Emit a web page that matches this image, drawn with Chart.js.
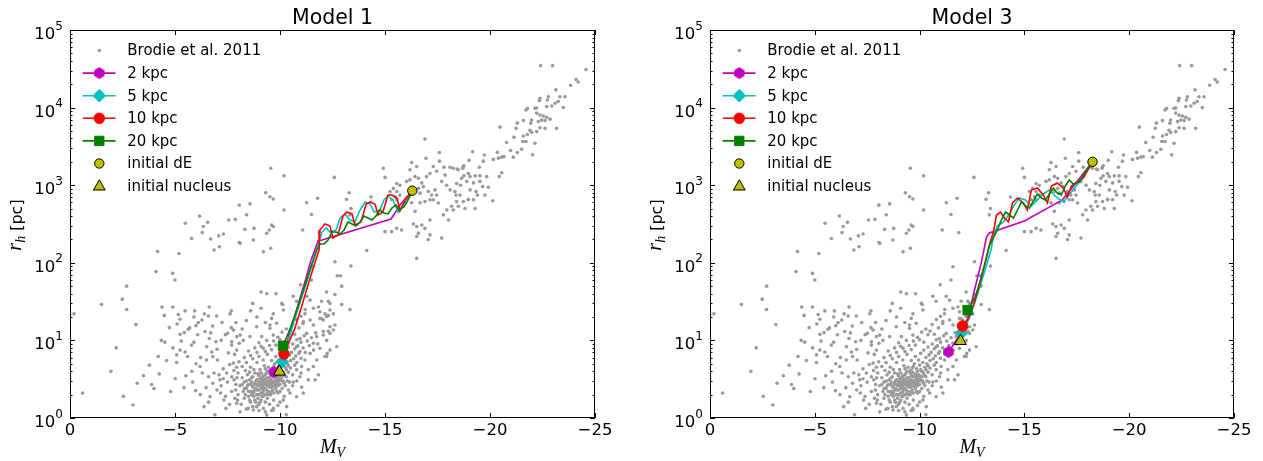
<!DOCTYPE html>
<html>
<head>
<meta charset="utf-8">
<script src="https://cdn.jsdelivr.net/npm/chart.js"></script>
<style>
  html, body { margin: 0; padding: 0; background: #fff; }
  #wrap { position: relative; width: 1263px; height: 461px; }
  .panel { position: absolute; top: 0; height: 461px; }
</style>
</head>
<body>
<div id="wrap">
  <div class="panel" style="left:0;width:640px"><canvas id="c1" width="640" height="461"></canvas></div>
  <div class="panel" style="left:640px;width:623px"><canvas id="c3" width="623" height="461"></canvas></div>
</div>
<script>
// Brodie et al. 2011 compilation, [M_V, r_h in pc]
const brodie = [
  [-0.19,22],[-0.6,2.1],[-1.5,29],[-1.95,4.0],[-2.54,1.9],[-3.0,1.47],[-2.7,50],[-2.49,34],[-2.7,25],[-3.14,16],
  [-3.78,4.8],[-3.89,2.7],[-4.0,2.4],[-4.1,77],[-4.17,140],[-4.25,3.7],[-4.35,10],[-4.52,9.5],[-4.38,27],[-4.49,21],
  [-4.73,14.6],[-4.79,2.2],[-4.89,27],[-4.89,73],[-5.0,60],[-5.01,3.2],[-5.08,6.5],[-5.08,5.2],[-5.16,21.6],[-5.19,132],
  [-5.24,18.7],[-5.24,12],[-5.24,7.5],[-5.48,24],[-5.48,7.1],[-5.49,323],[-5.44,12.6],[-5.52,3.5],[-5.43,2.46],[-5.63,13.9],
  [-5.79,206],[-5.79,8.7],[-5.84,2.9],[-5.9,20],[-5.94,24],[-5.98,2.25],[-6.08,11.8],[-6.11,17],[-6.17,400],[-6.19,4.6],
  [-6.22,6.0],[-6.3,245],[-6.29,18.3],[-6.35,294],[-6.38,1.4],[-6.43,13],[-6.48,2.46],[-6.51,8.3],[-6.56,332],[-6.59,20.6],
  [-6.63,27],[-6.63,10.6],[-6.67,1.88],[-6.7,203],[-6.75,7.1],[-6.79,15.3],[-6.86,146],[-6.86,3.8],[-6.9,1.1],[-6.95,9.6],
  [-6.98,20.6],[-7.02,5.6],[-7.08,222],[-7.11,161],[-7.14,3.1],[-7.17,2.1],[-7.24,17],[-7.3,235],[-7.3,3.2],[-7.33,1.7],
  [-7.4,11.8],[-7.43,1.33],[-7.46,3.8],[-7.54,6.9],[-7.56,356],[-7.62,22],[-7.68,24],[-7.68,14.6],[-7.7,9.6],[-7.78,5.1],
  [-7.81,3.1],[-7.84,6.6],[-7.87,363],[-7.89,2.3],[-7.94,11.2],[-7.94,4.5],[-7.98,1.7],[-8.06,553],[-8.06,182],[-8.06,9.2],
  [-9.56,1650],[-10.19,1320],[-9.32,800],[-9.52,710],[-9.68,665],[-10.19,480],[-8.57,574],[-8.41,415],[-8.33,270],[-8.76,278],
  [-9.49,265],[-9.6,307],[-9.68,293],[-9.37,240],[-8.1,178],[-8.73,197],[-9.56,154],[-9.21,139],[-11.08,265],[-11.27,595],
  [-11.5,420],[-11.79,680],[-9.1,42],[-9.37,40],[-9.81,40],[-10.13,29],[-9.68,22],[-9.52,15.8],
  [-10.08,30],[-10.16,24.6],[-10.63,37],[-10.98,52],[-11.5,60],[-11.59,89],[-12.62,103],[-12.73,68],[-12.94,50],[-12.22,42],
  [-12.38,30],[-11.98,32],[-11.83,27],[-11.43,33],[-11.27,37],[-10.79,32],[-11.59,26],[-11.9,23.4],[-12.14,22],[-12.38,24.6],
  [-12.54,22],[-11.9,19.2],[-12.06,18.3],[-12.22,20.3],[-12.38,15],[-12.54,13.6],[-12.62,15.8],[-11.19,22],[-11.11,17.5],[-11.43,18.3],
  [-11.59,15.8],[-9.6,19.2],[-9.84,16.6],[-9.52,14.3],[-9.68,11.7],[-9.37,10],[-9.13,11.2],[-9.21,7.9],[-8.89,15],[-8.57,11.2],
  [-8.25,10],[-8.1,11.7],[-7.78,13.6],[-7.7,8.7],[-7.94,7.5],[-10.95,10.6],[-11.27,12.3],[-10.79,8.3],[-11.59,9.2],[-11.75,11.2],
  [-12.06,11.7],[-11.9,7.9],[-12.22,10],[-12.3,13.2],[-11.43,6.8],[-11.75,5.6],[-11.19,5.6],[-11.03,4.6],[-11.35,4.2],[-11.59,4.6],
  [-10.79,4.2],[-12.22,6.2],[-12.38,7.5],[-12.7,8.3],[-11.83,3.6],[-11.67,3.1],[-10.95,3.4],[-10.63,2.9],[-11.03,2.5],[-11.35,3.1],
  [-10.48,2.1],[-10.79,1.88],[-10.16,1.7],[-11.11,2.1],[-10.32,1.4],[-9.68,1.33],[-9.21,1.33],[-8.89,1.4],[-8.49,1.33],[-7.94,1.55],
  [-12.62,39],[-12.3,32],[-12.3,21],[-12.94,29],[-13.33,25],[-11.98,19],[-12.06,13.1],[-12.38,12.3],[-12.14,6.2],[-12.25,6.8],
  [-14.13,144],[-13.38,91],[-12.89,68],
  [-16.9,3940],[-17.59,2640],[-17.59,2040],[-16.95,2220],[-16.51,1740],[-16.27,1960],[-16.19,1580],[-14.92,1650],[-15.0,1260],[-15.56,1050],
  [-15.71,1000],[-15.4,910],[-15.24,830],[-15.56,830],[-15.71,745],[-15.48,710],[-15.32,650],[-15.56,650],[-16.03,1120],[-16.19,1170],
  [-16.43,1290],[-16.59,1230],[-16.75,1070],[-16.83,960],[-16.59,910],[-16.43,830],[-16.67,790],[-16.98,1290],[-17.14,1410],[-17.3,1740],
  [-17.46,1510],[-17.7,1120],[-17.86,1350],[-17.06,830],[-17.22,745],[-17.3,650],[-17.46,745],[-17.38,870],[-16.27,595],[-16.43,460],
  [-16.67,595],[-16.9,615],[-17.14,650],[-17.54,590],[-16.35,316],[-16.51,294],[-16.75,307],[-16.9,278],[-16.59,240],[-16.51,218],
  [-17.14,356],[-17.14,229],[-17.7,208],[-17.06,200],[-15.56,278],[-15.79,265],[-15.32,252],[-16.51,114],[-15.0,252],[-12.59,1260],
  [-13.29,800],[-13.17,660],[-13.38,500],[-13.33,415],[-14.33,705],[-11.87,245],[-17.94,1000],[-18.1,870],[-18.33,830],[-18.41,615],
  [-18.17,535],[-17.94,480],[-17.78,415],[-18.02,356],[-18.25,480],[-18.49,535],[-18.81,500],[-18.73,615],[-18.57,745],[-18.41,1050],
  [-18.65,1230],[-18.73,1740],[-18.97,1410],[-18.49,1580],[-18.25,1650],[-18.97,650],[-19.05,870],
  [-22.41,34700],[-22.98,34700],[-24.57,31000],[-24.1,23000],[-24.2,21400],[-23.84,19400],[-23.14,16900],[-23.33,13800],[-23.57,13800],[-23.25,12000],
  [-23.1,11400],[-22.94,10500],[-22.7,10300],[-23.49,10000],[-22.78,13800],[-22.73,12500],[-22.38,13200],[-22.35,12300],[-21.78,9700],[-21.71,9300],
  [-22.14,9800],[-22.22,9900],[-22.22,8500],[-22.38,8000],[-22.54,7800],[-22.7,7500],[-22.46,6900],[-22.3,6600],[-22.62,6800],[-22.86,7100],
  [-21.98,6900],[-21.94,6300],[-21.59,6800],[-21.3,6300],[-21.24,5400],[-22.38,5500],[-22.62,5400],[-23.17,5400],[-20.48,5600],[-21.9,5100],
  [-21.98,4800],[-21.78,4500],[-21.59,4300],[-22.22,4900],[-22.14,3470],[-21.14,4150],[-21.56,3650],[-21.71,3650],[-20.79,3550],[-21.51,2900],
  [-21.3,2630],[-21.11,2300],[-20.98,2800],[-20.67,2340],[-20.56,2300],[-20.4,2230],[-20.35,2650],[-20.16,2150],[-22.03,2460],[-19.73,2450],
  [-19.68,2040],[-19.49,1700],[-19.17,2700],[-19.0,2090],[-18.76,1780],[-18.7,1650],[-18.44,1620],[-18.1,1700],[-17.81,1700],[-19.84,1290],
  [-19.52,1320],[-19.29,1320],[-19.05,1290],[-18.76,1320],[-18.6,1000],[-18.89,1120],[-19.21,1070],[-19.52,1120],[-19.65,960],[-19.92,940],
  [-19.76,745],[-19.33,830],[-19.4,745],[-19.21,650],[-18.97,660],[-18.38,745],[-20.13,630],[-20.56,1450],[-20.44,1290],[-19.29,500],
  [-8.0,2.0],[-8.1,2.6],[-8.15,1.5],[-8.2,3.3],[-8.25,2.2],[-8.3,1.8],[-8.3,2.9],[-8.35,4.1],[-8.4,1.3],[-8.4,2.4],
  [-8.45,3.6],[-8.5,1.9],[-8.5,2.7],[-8.55,3.1],[-8.6,1.6],[-8.6,2.2],[-8.6,4.5],[-8.65,2.9],[-8.7,1.4],[-8.7,2.5],
  [-8.7,3.4],[-8.75,1.9],[-8.75,2.1],[-8.8,2.8],[-8.8,3.8],[-8.85,1.6],[-8.85,2.4],[-8.9,3.1],[-8.9,2.0],[-8.9,5.2],
  [-8.95,2.6],[-8.95,1.8],[-9.0,3.5],[-9.0,2.3],[-9.0,1.5],[-9.05,2.9],[-9.05,4.2],[-9.1,2.1],[-9.1,2.7],[-9.1,1.7],
  [-9.15,3.3],[-9.15,2.5],[-9.2,1.9],[-9.2,3.0],[-9.2,2.2],[-9.25,4.7],[-9.25,2.8],[-9.3,1.6],[-9.3,2.4],[-9.3,3.6],
  [-9.35,2.0],[-9.35,3.1],[-9.4,2.6],[-9.4,1.8],[-9.4,4.0],[-9.45,2.9],[-9.45,2.2],[-9.5,3.3],[-9.5,1.5],[-9.5,2.5],
  [-9.55,3.8],[-9.55,2.0],[-9.6,2.8],[-9.6,3.1],[-9.6,5.5],[-9.65,2.3],[-9.65,4.4],[-9.7,3.4],[-9.7,2.6],[-9.7,1.7],
  [-9.75,3.0],[-9.75,5.0],[-9.8,2.4],[-9.8,3.7],[-9.8,6.2],[-9.85,2.8],[-9.85,4.3],[-9.9,3.2],[-9.9,2.1],[-9.95,3.6],
  [-9.95,5.6],[-10.0,2.7],[-10.0,4.8],[-10.05,3.3],[-10.05,6.8],[-10.1,2.4],[-10.1,4.0],[-10.15,3.0],[-10.15,5.2],[-10.2,3.7],
  [-10.2,7.5],[-10.25,2.6],[-10.25,4.5],[-10.3,3.4],[-10.3,6.0],[-10.35,5.0],[-10.4,3.9],[-10.4,8.2],[-10.45,2.9],[-10.45,6.5],
  [-10.5,4.4],[-10.5,5.5],[-10.55,7.0],[-10.6,3.6],[-10.6,9.0],[-10.65,5.8],[-10.7,4.8],[-10.7,7.8],[-10.75,6.3],[-10.8,5.2],
  [-10.8,10.2],[-10.85,8.5],[-10.9,6.8],[-10.95,7.2],[-11.0,9.5],[-11.0,5.9],[-11.1,8.0],[-11.15,11.5],[-11.2,7.0],[-11.3,9.8],
  [-11.4,8.6],[-11.5,10.8],[-11.6,7.5],[-11.7,12.5],[-11.8,9.0],[-8.0,3.8],[-8.05,5.3],[-8.1,1.2],[-8.2,4.6],[-8.3,6.0],
  [-8.4,5.2],[-8.5,7.3],[-8.6,6.4],[-8.7,5.8],[-8.8,8.0],[-8.9,7.0],[-9.0,6.2],[-9.0,9.3],[-9.1,8.4],[-9.2,5.6],
  [-9.3,7.2],[-9.4,6.6],[-9.5,8.6],[-9.6,7.6],[-9.7,9.8],[-9.8,8.7],[-9.9,11.0],[-10.0,10.2],[-10.1,12.8],[-10.2,9.5],
  [-10.3,14.0],[-10.4,11.8],[-10.5,13.2],[-10.6,16.0],[-10.7,12.0],[-10.8,18.5],[-10.9,14.5],[-11.0,20.5],[-11.1,16.5],[-11.2,25.0],
  [-9.0,1.25],[-9.3,1.2],[-9.6,1.25],[-9.9,1.45],[-10.0,1.6],[-10.2,1.9],[-10.4,2.3],[-10.6,2.6],[-10.8,3.0],[-11.0,3.8],
  [-7.2,2.6],[-7.4,1.9],[-7.5,2.9],[-7.6,1.5],[-7.7,3.4],[-7.7,2.2],[-7.8,4.1],[-7.85,1.8],[-7.9,2.7],[-7.95,3.3],
  [-7.3,4.3],[-7.6,4.9],[-7.0,2.3],[-7.1,3.6],[-6.8,2.8],[-6.6,3.4],[-6.5,5.6],[-6.8,6.2],[-7.0,7.7],[-6.3,3.8],
  [-6.0,5.0],[-6.2,2.0],[-6.6,1.6],[-5.8,4.0],[-5.6,6.2],[-5.9,9.5],[-5.7,14.5],[-6.0,15.5],[-6.4,22],[-6.7,12.5],
  [-7.2,10],[-7.5,12.3],[-7.9,17],[-8.2,14],[-8.4,18],[-8.6,24],[-8.9,20],[-9.1,26],[-8.7,30],[-9.3,17],
  [-5.3,9.8],[-5.1,16.3],[-4.9,8],[-4.6,5.5],[-4.2,6.2],[-3.5,3.5],[-3.2,2.8],[-2.2,8],
  [-8.73,1.27],[-9.37,1.09],[-9.68,1.27],[-10.3,1.1],
  [-8.35,2.0],[-8.45,2.6],[-8.55,1.7],[-8.55,3.9],[-8.65,2.0],[-8.65,3.3],[-8.75,2.6],[-8.75,4.2],[-8.8,1.7],[-8.85,3.0],
  [-8.9,2.3],[-8.95,3.7],[-9.0,2.0],[-9.0,2.6],[-9.05,1.6],[-9.05,3.2],[-9.1,2.4],[-9.1,3.8],[-9.15,1.9],[-9.15,2.9],
  [-9.2,2.6],[-9.2,3.5],[-9.25,2.0],[-9.25,3.2],[-9.3,2.7],[-9.3,4.3],[-9.35,2.3],[-9.35,3.8],[-9.4,2.1],[-9.4,3.3],
  [-9.45,2.6],[-9.45,4.5],[-9.5,2.0],[-9.5,3.0],[-9.55,2.7],[-9.55,4.1],[-9.6,2.2],[-9.6,3.5],[-9.65,2.9],[-9.65,3.9],
  [-9.7,2.1],[-9.7,4.6],[-9.75,2.6],[-9.75,3.6],[-9.8,3.1],[-9.85,2.2],[-9.85,3.4],[-9.9,2.6],[-9.9,4.0],[-9.95,3.0],
  [-10.0,3.5],[-10.0,2.2],[-10.05,4.2],[-10.1,3.0],[-10.15,3.9],[-10.2,2.8],[-10.25,3.5],[-10.3,4.2],[-10.35,3.0],[-10.4,4.7],
  [-8.2,2.7],[-8.3,2.4],[-8.4,3.0],[-8.5,2.2],[-8.6,2.7],[-8.7,2.2],[-8.8,2.3],[-8.9,2.7],[-9.0,2.9],[-9.1,3.0],
  [-9.2,2.4],[-9.3,2.9],[-9.4,2.9],[-9.5,2.7],[-9.6,2.5],[-9.7,2.9],[-9.8,2.7],[-9.9,2.9],[-10.0,3.1],[-10.1,3.4]
];

// Model 1 tracks [M_V, r_h]
const m1Kpc2 = [[-16.29,842],[-15.71,556],[-15.29,367],[-12.0,197],[-11.81,191],[-11.48,109],[-11.19,57],[-10.86,28.6],[-10.52,14.4],[-10.24,7.5],[-9.95,4.8],[-9.71,3.9]];
const m1Kpc5 = [[-16.29,842],[-15.9,573],[-15.62,451],[-15.38,645],[-15.14,726],[-14.95,645],[-14.76,479],[-14.48,451],[-14.29,573],[-14.05,608],[-13.81,479],[-13.57,336],[-13.33,356],[-13.1,426],[-12.86,378],[-12.67,265],[-12.38,249],[-12.19,281],[-12.0,249],[-11.81,170],[-11.57,102],[-11.24,53],[-10.9,27.8],[-10.57,14.4],[-10.33,8.7],[-10.1,5.3]];
const m1Kpc10 = [[-16.29,842],[-15.95,645],[-15.71,465],[-15.57,684],[-15.33,748],[-15.14,748],[-14.9,451],[-14.67,413],[-14.52,573],[-14.29,608],[-14.1,573],[-13.86,336],[-13.57,307],[-13.43,426],[-13.19,451],[-13.0,401],[-12.76,228],[-12.52,209],[-12.38,298],[-12.14,316],[-11.9,265],[-11.86,146],[-11.67,102],[-11.38,57],[-11.05,28.6],[-10.71,14.4],[-10.43,9.5],[-10.19,6.7]];
const m1Kpc20 = [[-16.29,842],[-16.1,645],[-15.9,524],[-15.67,479],[-15.52,556],[-15.33,508],[-15.14,426],[-14.95,438],[-14.76,479],[-14.57,401],[-14.38,356],[-14.19,378],[-14.0,401],[-13.81,336],[-13.62,298],[-13.43,316],[-13.24,336],[-13.05,265],[-12.86,235],[-12.67,249],[-12.48,249],[-12.29,197],[-12.1,175],[-11.9,175],[-11.71,138],[-11.52,97],[-11.24,57],[-10.95,33],[-10.67,19.4],[-10.38,12.1],[-10.14,8.5]];
const m1Dwarf = [-16.3, 850];
const m1Nucleus = [-9.97, 3.95];

// Model 3 tracks [M_V, r_h]
const m3Kpc2 = [[-18.24,1991],[-17.38,1006],[-16.81,645],[-15.0,346],[-13.33,242],[-13.19,215],[-12.95,102],[-12.62,44.6],[-12.38,23.2],[-12.14,13.6],[-11.76,10.1],[-11.38,7.1]];
const m3Kpc5 = [[-18.24,1991],[-17.71,1167],[-17.24,817],[-16.86,608],[-16.57,684],[-16.19,867],[-15.9,771],[-15.62,645],[-15.33,540],[-15.05,645],[-14.76,684],[-14.52,556],[-14.29,426],[-14.0,336],[-13.71,298],[-13.52,221],[-13.43,155],[-13.24,102],[-12.95,57],[-12.67,33],[-12.38,19.4],[-12.1,13.6],[-12.0,12.5]];
const m3Kpc10 = [[-18.24,1991],[-17.81,1238],[-17.24,977],[-17.05,704],[-16.86,920],[-16.57,1067],[-16.29,977],[-16.1,590],[-15.9,748],[-15.62,920],[-15.33,867],[-15.14,479],[-14.95,590],[-14.67,684],[-14.43,590],[-14.24,336],[-14.05,378],[-13.86,451],[-13.67,413],[-13.52,249],[-13.33,170],[-13.1,94],[-12.86,52],[-12.57,28.6],[-12.33,19.4],[-12.05,15.3]];
const m3Kpc20 = [[-18.24,1991],[-17.9,1480],[-17.62,1100],[-17.33,1036],[-17.14,1167],[-16.95,977],[-16.76,748],[-16.57,793],[-16.38,920],[-16.19,771],[-16.0,645],[-15.81,684],[-15.62,771],[-15.43,626],[-15.24,508],[-15.05,540],[-14.86,608],[-14.67,479],[-14.48,378],[-14.29,413],[-14.1,451],[-13.9,356],[-13.71,265],[-13.52,209],[-13.33,165],[-13.14,102],[-12.9,60],[-12.67,37.4],[-12.43,27.8],[-12.29,24.6]];
const m3Dwarf = [-18.25, 2000];
const m3Nucleus = [-11.95, 9.8];

const xTicks = [0, -5, -10, -15, -20, -25];
const yDecades = [0, 1, 2, 3, 4, 5];

const SANS = '"DejaVu Sans", sans-serif';
const SERIF = '"Liberation Serif", "DejaVu Serif", serif';
const GREY = '#999999';
const DWARF_FILL = '#bfbf00';

const trackStyles = [
  { label: '2 kpc',  color: '#bf00bf', marker: 'hex',     r: 5.4 },
  { label: '5 kpc',  color: '#00bfbf', marker: 'rectRot', r: 6.3 },
  { label: '10 kpc', color: '#ff0000', marker: 'circle',  r: 5.3 },
  { label: '20 kpc', color: '#008000', marker: 'rect',    r: 6.6 }
];

function hexImage(color, r) {
  const c = document.createElement('canvas');
  const s = Math.ceil(2 * r + 4);
  c.width = s; c.height = s;
  const g = c.getContext('2d');
  g.beginPath();
  for (let i = 0; i < 6; i++) {
    const a = -Math.PI / 2 + i * Math.PI / 3;
    const px = s / 2 + r * Math.cos(a), py = s / 2 + r * Math.sin(a);
    if (i) g.lineTo(px, py); else g.moveTo(px, py);
  }
  g.closePath();
  g.fillStyle = color; g.fill();
  g.strokeStyle = color; g.lineWidth = 1; g.stroke();
  return c;
}
const hexMarker = hexImage('#bf00bf', 5.4);

function toPts(arr) {
  return arr.map(p => ({ x: p[0], y: p[1] }));
}

// legend marker shapes (same geometry as Chart.js point styles)
function drawMarker(ctx, type, x, y, r, fill, stroke) {
  ctx.save();
  ctx.fillStyle = fill; ctx.strokeStyle = stroke; ctx.lineWidth = 1;
  if (type === 'hex') {
    ctx.drawImage(hexMarker, x - hexMarker.width / 2, y - hexMarker.height / 2);
    ctx.restore();
    return;
  }
  ctx.beginPath();
  if (type === 'circle') {
    ctx.arc(x, y, r, 0, Math.PI * 2);
  } else if (type === 'rect') {
    const s = r * Math.SQRT1_2;
    ctx.rect(x - s, y - s, 2 * s, 2 * s);
  } else if (type === 'rectRot') {
    ctx.moveTo(x, y - r); ctx.lineTo(x + r, y); ctx.lineTo(x, y + r); ctx.lineTo(x - r, y);
    ctx.closePath();
  } else if (type === 'triangle') {
    for (let i = 0; i < 3; i++) {
      const a = i * 2 * Math.PI / 3;
      const px = x + Math.sin(a) * r, py = y - Math.cos(a) * r;
      if (i) ctx.lineTo(px, py); else ctx.moveTo(px, py);
    }
    ctx.closePath();
  }
  ctx.fill();
  ctx.stroke();
  ctx.restore();
}

const decorPlugin = {
  id: 'decor',
  afterDraw(chart) {
    const { ctx, chartArea: a, scales: { x, y } } = chart;
    const title = chart.options.plugins.decor.title;
    ctx.save();
    ctx.strokeStyle = '#000';
    ctx.lineWidth = 1;
    // inward ticks
    ctx.beginPath();
    xTicks.forEach(v => {
      const px = Math.round(x.getPixelForValue(v)) + 0.5;
      ctx.moveTo(px, a.bottom); ctx.lineTo(px, a.bottom - 5);
      ctx.moveTo(px, a.top); ctx.lineTo(px, a.top + 5);
    });
    for (let e = 0; e < 5; e++) {
      for (let k = 1; k <= 10; k++) {
        const v = k * Math.pow(10, e);
        const py = Math.round(y.getPixelForValue(v)) + 0.5;
        const len = (k === 1 || k === 10) ? 5 : 2.5;
        ctx.moveTo(a.left, py); ctx.lineTo(a.left + len, py);
        ctx.moveTo(a.right, py); ctx.lineTo(a.right - len, py);
      }
    }
    ctx.stroke();
    ctx.strokeRect(a.left + 0.5, a.top + 0.5, a.width - 1, a.height - 1);

    // y tick labels 10^n
    ctx.fillStyle = '#000';
    ctx.textAlign = 'right';
    ctx.textBaseline = 'alphabetic';
    yDecades.forEach(n => {
      const py = y.getPixelForValue(Math.pow(10, n));
      ctx.font = '12px ' + SANS;
      const we = ctx.measureText(String(n)).width;
      ctx.fillText(String(n), a.left - 7, py - 0.5);
      ctx.font = '16.5px ' + SANS;
      ctx.fillText('10', a.left - 7 - we, py + 9);
    });

    // title
    ctx.font = '20.5px ' + SANS;
    ctx.textAlign = 'center';
    ctx.fillText(title, (a.left + a.right) / 2, 24);

    // x label M_V
    const cx = (a.left + a.right) / 2;
    ctx.textAlign = 'left';
    ctx.font = 'italic 20px ' + SERIF;
    const wM = ctx.measureText('M').width;
    ctx.font = 'italic 14px ' + SERIF;
    const wV = ctx.measureText('V').width;
    const x0 = cx - (wM + wV) / 2;
    ctx.font = 'italic 20px ' + SERIF;
    ctx.fillText('M', x0, 453);
    ctx.font = 'italic 14px ' + SERIF;
    ctx.fillText('V', x0 + wM, 457);

    // y label r_h [pc]
    ctx.save();
    ctx.translate(22, (a.top + a.bottom) / 2 + 1);
    ctx.rotate(-Math.PI / 2);
    ctx.font = 'italic 20px ' + SERIF;
    const wr = ctx.measureText('r').width;
    ctx.font = 'italic 14px ' + SERIF;
    const wh = ctx.measureText('h').width;
    ctx.font = '16px ' + SANS;
    const wpc = ctx.measureText(' [pc]').width;
    let ux = -(wr + wh + wpc) / 2;
    ctx.font = 'italic 20px ' + SERIF;
    ctx.fillText('r', ux, -1);
    ux += wr;
    ctx.font = 'italic 14px ' + SERIF;
    ctx.fillText('h', ux, 3);
    ux += wh;
    ctx.font = '16px ' + SANS;
    ctx.fillText(' [pc]', ux, 0);
    ctx.restore();

    // legend inside plot area
    const lx = a.left + 29.3, tx = a.left + 57.3;
    const rowY = i => a.top + 20.5 + i * 22.6;
    ctx.font = '15px ' + SANS;
    ctx.textBaseline = 'middle';
    ctx.textAlign = 'left';
    ctx.fillStyle = GREY;
    ctx.beginPath(); ctx.arc(lx, rowY(0), 1.8, 0, Math.PI * 2); ctx.fill();
    ctx.fillStyle = '#000';
    ctx.fillText('Brodie et al. 2011', tx, rowY(0) + 1);
    trackStyles.forEach((s, i) => {
      const yy = rowY(i + 1);
      ctx.strokeStyle = s.color; ctx.lineWidth = 1.6;
      ctx.beginPath(); ctx.moveTo(a.left + 12.7, yy); ctx.lineTo(a.left + 45.5, yy); ctx.stroke();
      drawMarker(ctx, s.marker, lx, yy, s.r, s.color, s.color);
      ctx.fillStyle = '#000';
      ctx.fillText(s.label, tx, yy + 1);
    });
    drawMarker(ctx, 'circle', lx, rowY(5), 4.7, DWARF_FILL, '#000');
    ctx.fillStyle = '#000';
    ctx.fillText('initial dE', tx, rowY(5) + 1);
    drawMarker(ctx, 'triangle', lx, rowY(6) + 0.5, 6.8, DWARF_FILL, '#000');
    ctx.fillStyle = '#000';
    ctx.fillText('initial nucleus', tx, rowY(6) + 1);
    ctx.restore();
  }
};

function trackDataset(data, style, order) {
  const last = data.length - 1;
  return {
    data: toPts(data),
    showLine: true,
    borderColor: style.color,
    backgroundColor: style.color,
    borderWidth: 1.6,
    tension: 0,
    order: order,
    pointStyle: style.marker === 'hex' ? hexMarker : style.marker,
    pointRadius: c => (c.dataIndex === last ? style.r : 0),
    pointBorderColor: style.color,
    pointBackgroundColor: style.color,
    pointBorderWidth: 1
  };
}

function makeChart(id, title, padRight, tracks, dwarf, nucleus) {
  const datasets = [
    {
      data: toPts(brodie),
      pointRadius: 1.8,
      pointBorderWidth: 0,
      backgroundColor: GREY,
      borderColor: GREY,
      order: 10
    }
  ];
  tracks.forEach((t, i) => datasets.push(trackDataset(t, trackStyles[i], 6 - i)));
  datasets.push({
    data: [{ x: dwarf[0], y: dwarf[1] }],
    pointStyle: 'circle', pointRadius: 4.7, pointBorderWidth: 1,
    backgroundColor: DWARF_FILL, borderColor: '#000', order: 2
  });
  datasets.push({
    data: [{ x: nucleus[0], y: nucleus[1] }],
    pointStyle: 'triangle', pointRadius: 6.8, pointBorderWidth: 1,
    backgroundColor: DWARF_FILL, borderColor: '#000', order: 1
  });

  return new Chart(document.getElementById(id), {
    type: 'scatter',
    data: { datasets: datasets },
    options: {
      responsive: false,
      animation: false,
      layout: { padding: { top: 30, right: padRight, bottom: 0, left: 0 } },
      plugins: {
        legend: { display: false },
        tooltip: { enabled: false },
        decor: { title: title }
      },
      scales: {
        x: {
          type: 'linear', min: -25, max: 0, reverse: true,
          afterFit: s => { s.height = 43; },
          grid: { display: false, drawTicks: false },
          border: { display: false },
          afterBuildTicks: s => { s.ticks = xTicks.map(v => ({ value: v })); },
          ticks: {
            autoSkip: false, maxRotation: 0, padding: 3, color: '#000',
            font: { family: 'DejaVu Sans', size: 16.5 },
            callback: v => (v === 0 ? '0' : '\u2212' + Math.abs(v))
          }
        },
        y: {
          type: 'logarithmic', min: 1, max: 100000,
          afterFit: s => { s.width = 70; },
          grid: { display: false, drawTicks: false },
          border: { display: false },
          ticks: { display: false }
        }
      }
    },
    plugins: [decorPlugin]
  });
}

makeChart('c1', 'Model 1', 45, [m1Kpc2, m1Kpc5, m1Kpc10, m1Kpc20], m1Dwarf, m1Nucleus);
makeChart('c3', 'Model 3', 29, [m3Kpc2, m3Kpc5, m3Kpc10, m3Kpc20], m3Dwarf, m3Nucleus);
</script>
</body>
</html>
